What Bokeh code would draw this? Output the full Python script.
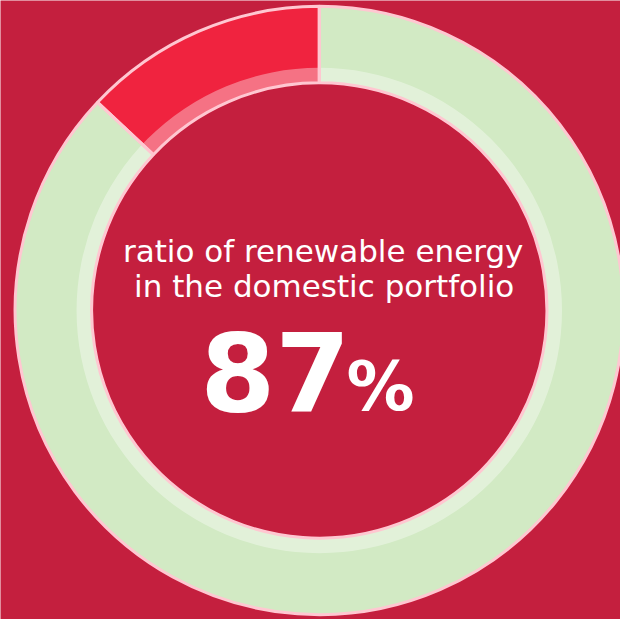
import math
from bokeh.plotting import figure
from bokeh.models import Range1d
from bokeh.core.properties import value
from bokeh.embed import file_html
from bokeh.resources import INLINE

# ---- data ----
categories = ["renewable", "other"]
shares = [87, 13]
seg_colors = ["#D2EAC4", "#F0233F"]
title_lines = ["ratio of renewable energy", "in the domestic portfolio"]
big_value = "87"
unit = "%"

BG = "#C41F3E"
PINK = "#FFC7D1"

W, H = 620, 619
p = figure(width=W, height=H, output_backend="svg", toolbar_location=None,
           x_range=Range1d(0, 636), y_range=Range1d(0, 635), min_border=0,
           background_fill_color=BG, border_fill_color=BG, outline_line_color=None)
p.axis.visible = False
p.grid.visible = False

cx, cy = 327, 317
r_in, r_band, r_out = 233.5, 249, 312

total = float(sum(shares))
starts, ends = [], []
a = math.pi / 2
for s in shares:
    starts.append(a)
    a = a - 2 * math.pi * s / total
    ends.append(a)

# segment fills
p.annular_wedge(x=[cx] * len(shares), y=[cy] * len(shares), inner_radius=r_in, outer_radius=r_out,
                start_angle=starts, end_angle=ends, direction="clock",
                fill_color=seg_colors, line_color=None)
# lighter inner band
p.annular_wedge(x=cx, y=cy, inner_radius=r_in, outer_radius=r_band,
                start_angle=0, end_angle=2 * math.pi,
                fill_color="white", fill_alpha=0.36, line_color=None)
# pink outlines
p.annular_wedge(x=[cx] * len(shares), y=[cy] * len(shares), inner_radius=r_in, outer_radius=r_out,
                start_angle=starts, end_angle=ends, direction="clock",
                fill_color=None, line_color=PINK, line_width=3)

# texts
p.text(x=[331, 332], y=[378, 342], text=title_lines, text_align="center",
       text_baseline="alphabetic", text_color="white", text_font=value("DejaVu Sans"),
       text_font_size="31px")
p.text(x=[359], y=[255], text=[big_value], text_align="right", text_baseline="alphabetic",
       text_color="white", text_font=value("DejaVu Sans"), text_font_style="bold",
       text_font_size="108px")
p.text(x=[355], y=[239], text=[unit], text_align="left", text_baseline="alphabetic",
       text_color="white", text_font=value("DejaVu Sans"), text_font_style="bold",
       text_font_size="68px")

html = file_html(p, INLINE)
html = html.replace("<body>", '<body style="background-color:%s;">' % BG, 1)
open("out.html", "w").write(html)
